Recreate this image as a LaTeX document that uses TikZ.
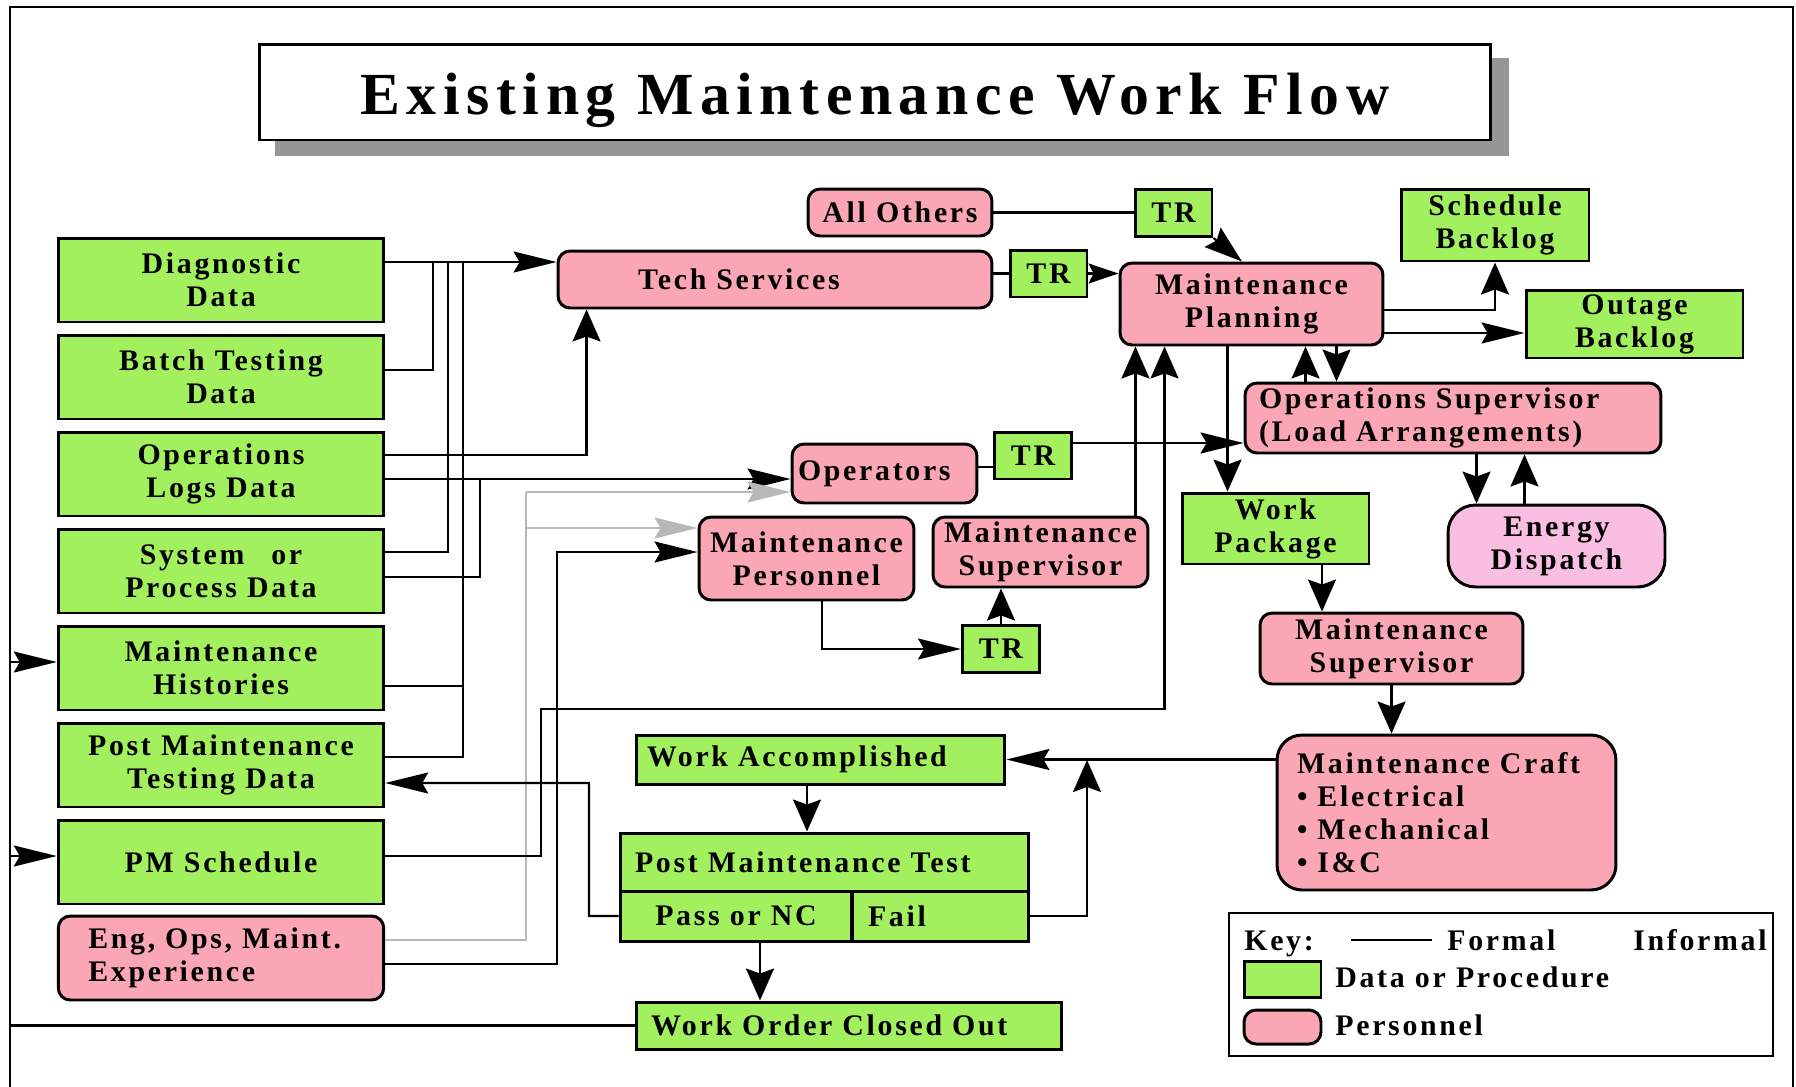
\documentclass[tikz,border=0pt]{standalone}
\usepackage{fontspec}
\usepackage{xcolor}
\usepackage{tikz}
\usetikzlibrary{arrows.meta,positioning,backgrounds}
\newfontfamily\boxfont{Liberation Serif}[LetterSpace=9]
\newfontfamily\titlefont{Liberation Serif}[LetterSpace=11]
\definecolor{dataGreen}{RGB}{163,240,95}
\definecolor{staffPink}{RGB}{250,166,180}
\definecolor{dispatchPink}{RGB}{249,190,226}
\definecolor{informalGrey}{RGB}{184,184,184}
\definecolor{shadowGrey}{RGB}{150,150,150}

\begin{document}
\begin{tikzpicture}[x=0.02cm, y=-0.02cm,
    data block/.style={rectangle, draw, line width=1.7pt, fill=dataGreen, inner sep=1pt, align=center, font=\boxfont\bfseries\fontsize{17}{18.8}\selectfont},
    staff block/.style={data block, fill=staffPink, rounded corners=0.24cm},
    side block/.style={data block, minimum width=6.51cm, minimum height=1.68cm},
    tr block/.style={data block, minimum width=1.54cm, minimum height=0.94cm},
    title block/.style={rectangle, draw, line width=1.7pt, fill=white, minimum width=24.64cm, minimum height=1.92cm, text height=1.05cm, text depth=0.15cm, font=\titlefont\bfseries\fontsize{34}{36}\selectfont},
    key text/.style={anchor=base west, inner sep=0pt, font=\boxfont\bfseries\fontsize{17}{18.8}\selectfont},
    link/.style={line width=1.2pt},
    hlink/.style={link, -{Stealth[length=0.86cm, width=0.42cm, inset=0.12cm]}},
    vlink/.style={link, -{Stealth[length=0.64cm, width=0.56cm, inset=0.1cm]}},
    dlink/.style={link, -{Stealth[length=0.76cm, width=0.5cm, inset=0.1cm]}},
    short hlink/.style={link, -{Stealth[length=0.6cm, width=0.4cm, inset=0.1cm]}},
    soft link/.style={link, draw=informalGrey},
    soft hlink/.style={hlink, draw=informalGrey}]
    \useasboundingbox (0,0) rectangle (1796,1086);
    \draw[line width=1.4pt] (10,7) rectangle (1793,1130);

    \node[title block] (title) at (875,92) {Existing Maintenance Work Flow};
    \begin{scope}[on background layer]
        \fill[shadowGrey] ([shift={(17,15)}]title.south west) rectangle ([shift={(17,15)}]title.north east);
    \end{scope}

    \node[side block] (diag) at (221,280) {Diagnostic\\Data};
    \node[side block] (batch) at (221,377) {Batch Testing\\Data};
    \node[side block] (opslog) at (221,474) {Operations\\Logs Data};
    \node[side block] (sysdata) at (221,571) {System\hspace{0.9em}or\\Process Data};
    \node[side block] (histories) at (221,668) {Maintenance\\Histories};
    \node[side block] (pmtdata) at (221,765) {Post Maintenance\\Testing Data};
    \node[side block] (pmsched) at (221,862) {PM Schedule};
    \node[staff block, align=left, inner xsep=0.6cm, text width=5.31cm, minimum height=1.68cm] (engexp) at (221,958) {Eng, Ops, Maint.\\Experience};

    \node[staff block, minimum width=3.68cm, minimum height=0.94cm] (allothers) at (900,212.5) {All Others};
    \node[tr block] (trA) at (1173.5,213) {TR};
    \node[staff block, align=left, inner xsep=1.6cm, text width=5.48cm, minimum height=1.14cm] (tech) at (775,279.5) {Tech Services};
    \node[tr block] (trB) at (1048.5,273.5) {TR};
    \node[staff block, minimum width=5.26cm, minimum height=1.64cm] (mplan) at (1251.5,304) {Maintenance\\Planning};
    \node[data block, minimum width=3.76cm, minimum height=1.44cm] (sbacklog) at (1495,225) {Schedule\\Backlog};
    \node[data block, minimum width=4.34cm, minimum height=1.36cm] (obacklog) at (1634.5,324) {Outage\\Backlog};
    \node[staff block, align=left, inner xsep=0.28cm, text width=7.76cm, minimum height=1.4cm] (opsup) at (1453,418) {Operations Supervisor\\(Load Arrangements)};
    \node[staff block, align=left, inner xsep=0.12cm, text width=3.46cm, minimum height=1.18cm] (operators) at (884.5,473.5) {Operators};
    \node[tr block] (trC) at (1033,455.5) {TR};
    \node[staff block, minimum width=4.3cm, minimum height=1.66cm] (mpers) at (806.5,558.5) {Maintenance\\Personnel};
    \node[staff block, minimum width=4.3cm, minimum height=1.4cm] (msupA) at (1040.5,552) {Maintenance\\Supervisor};
    \node[tr block] (trD) at (1001,649) {TR};
    \node[data block, minimum width=3.74cm, minimum height=1.42cm] (wpack) at (1275.5,528.5) {Work\\Package};
    \node[staff block, fill=dispatchPink, rounded corners=0.55cm, minimum width=4.34cm, minimum height=1.64cm] (energy) at (1556.5,546) {Energy\\Dispatch};
    \node[staff block, minimum width=5.26cm, minimum height=1.42cm] (msupB) at (1391.5,648.5) {Maintenance\\Supervisor};
    \node[staff block, rounded corners=0.5cm, align=left, inner xsep=0.4cm, text width=5.98cm, minimum height=3.1cm] (mcraft) at (1446.5,812.5) {Maintenance Craft\\\textbullet\ Electrical\\\textbullet\ Mechanical\\\textbullet\ I\&C};
    \node[data block, align=left, inner xsep=0.22cm, text width=6.94cm, minimum height=0.98cm] (workacc) at (820.5,759.5) {Work Accomplished};
    \node[data block, align=left, inner xsep=0.3cm, text width=7.58cm, minimum height=1.16cm] (pmt) at (824.5,862) {Post Maintenance Test};
    \node[data block, minimum width=4.64cm, minimum height=1cm] (pass) at (736,916) {Pass or NC};
    \node[data block, align=left, inner xsep=0.32cm, text width=2.9cm, minimum height=1cm] (fail) at (940.5,916) {Fail};
    \node[data block, align=left, inner xsep=0.3cm, text width=7.92cm, minimum height=0.94cm] (woco) at (849,1025.5) {Work Order Closed Out};

    \coordinate (busA) at (433,262);
    \coordinate (busB) at (448,262);
    \coordinate (busC) at (463,262);
    \coordinate (sysJoin) at (480,479);
    \coordinate (greyTop) at (526,492);
    \coordinate (greyMid) at (526,528);
    \coordinate (engUp) at (557,552);
    \coordinate (pmBend) at (541,709);
    \coordinate (passUp) at (589,783);
    \coordinate (failTop) at (1087,760);
    \coordinate (loopX) at (10,1025);

    \draw[hlink] ([yshift=0.36cm]diag.east) -- ([yshift=0.36cm]diag.east -| tech.west);
    \draw[link] ([yshift=0.14cm]batch.east) -| (busA);
    \draw[link] ([yshift=0.38cm]sysdata.east) -| (busB);
    \draw[link] ([yshift=0.16cm]pmtdata.east) -| (busC);
    \draw[link] ([yshift=-0.36cm]histories.east) -| (busC);
    \draw[vlink] ([yshift=0.38cm]opslog.east) -| ([xshift=0.6cm]tech.south west);
    \draw[hlink] ([yshift=-0.1cm]opslog.east) -- ([yshift=-0.1cm]opslog.east -| operators.west);
    \draw[link] ([yshift=-0.12cm]sysdata.east) -| (sysJoin);
    \draw[soft link] ([yshift=0.36cm]engexp.east) -| (greyTop);
    \draw[soft hlink] (greyTop) -- (greyTop -| operators.west);
    \draw[soft hlink] (greyMid) -- (greyMid -| mpers.west);
    \draw[hlink] ([yshift=-0.12cm]engexp.east) -| (engUp) -- (engUp -| mpers.west);
    \draw[vlink] ([yshift=0.12cm]pmsched.east) -| (pmBend) -| ([xshift=0.92cm]mplan.south west);
    \draw[hlink] (pass.west) -| (passUp) -- ([yshift=-0.36cm]pmtdata.east);
    \draw[link] (woco.west) -- (woco.west -| loopX);
    \draw[hlink] ([yshift=0.12cm]histories.west -| loopX) -- ([yshift=0.12cm]histories.west);
    \draw[hlink] ([yshift=0.12cm]pmsched.west -| loopX) -- ([yshift=0.12cm]pmsched.west);

    \draw[link] (allothers.east) -- (allothers.east -| trA.west);
    \draw[dlink] (trA.south east) -- ([xshift=-0.19cm]mplan.north);
    \draw[link] (tech.east |- trB.west) -- (trB.west);
    \draw[short hlink] (trB.east) -- (trB.east -| mplan.west);
    \draw[link] ([yshift=0.13cm]operators.east) -- ([yshift=0.13cm]operators.east -| trC.west);
    \draw[hlink] ([yshift=0.25cm]trC.east) -- ([yshift=0.25cm]trC.east -| opsup.west);
    \draw[vlink] ([xshift=2.18cm]mplan.south west) -- ([xshift=2.18cm]mplan.south west |- wpack.north);
    \draw[vlink] ([yshift=-0.12cm]mplan.east) -| (sbacklog.south);
    \draw[hlink] ([yshift=-0.58cm]mplan.east) -- ([yshift=-0.58cm]mplan.east -| obacklog.west);
    \draw[vlink] ([xshift=1.24cm]opsup.north west) -- ([xshift=1.24cm]opsup.north west |- mplan.south);
    \draw[vlink] ([xshift=1.86cm]opsup.north west |- mplan.south) -- ([xshift=1.86cm]opsup.north west);
    \draw[vlink] ([xshift=0.6cm]energy.north west |- opsup.south) -- ([xshift=0.6cm]energy.north west);
    \draw[vlink] ([xshift=1.56cm]energy.north west) -- ([xshift=1.56cm]energy.north west |- opsup.south);
    \draw[vlink] ([xshift=-0.28cm]msupA.north east) -- ([xshift=-0.28cm]msupA.north east |- mplan.south);
    \draw[hlink] ([xshift=0.31cm]mpers.south) |- (trD.west);
    \draw[vlink] (trD.north) -- (trD.north |- msupA.south);
    \draw[vlink] ([xshift=0.93cm]wpack.south) -- ([xshift=0.93cm]wpack.south |- msupB.north);
    \draw[vlink] (msupB.south) -- (msupB.south |- mcraft.north);
    \draw[hlink] (mcraft.west |- workacc.east) -- (workacc.east);
    \draw[vlink] (fail.east) -| (failTop);
    \draw[vlink] ([xshift=-0.27cm]workacc.south) -- ([xshift=-0.27cm]workacc.south |- pmt.north);
    \draw[vlink] ([xshift=0.48cm]pass.south) -- ([xshift=0.48cm]pass.south |- woco.north);

    \node[draw, line width=1.5pt, minimum width=10.88cm, minimum height=2.86cm] (keybox) at (1501,984.5) {};
    \node[key text] (keylabel) at (1244,950) {Key:};
    \node[key text] (formal) at (1447,950) {Formal};
    \node[key text] (informal) at (1633,950) {Informal};
    \draw[link] ([xshift=-0.3cm]formal.west) -- ([xshift=-1.92cm]formal.west);
    \node[data block, minimum width=1.54cm, minimum height=0.72cm] (keydata) at (1282.5,979) {};
    \node[key text] (datalabel) at (1335,987) {Data or Procedure};
    \node[staff block, minimum width=1.54cm, minimum height=0.68cm] (keystaff) at (1282.5,1027) {};
    \node[key text] (stafflabel) at (1335,1035) {Personnel};
\end{tikzpicture}
\end{document}
